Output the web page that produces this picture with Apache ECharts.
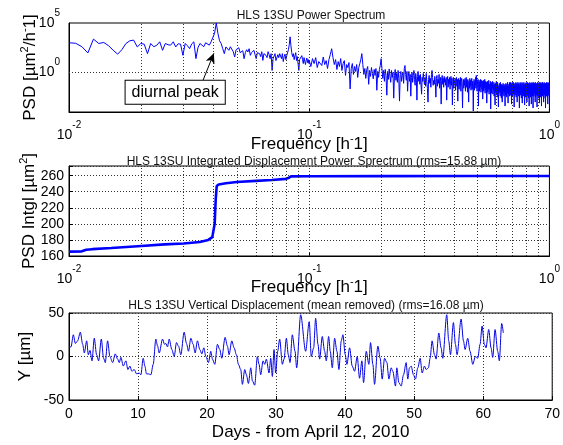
<!DOCTYPE html>
<html><head><meta charset="utf-8">
<script src="https://cdn.jsdelivr.net/npm/echarts@6/dist/echarts.min.js"></script>
<style>html,body{margin:0;padding:0;background:#fff}#c{width:563px;height:445px}</style>
</head><body><div id="c"></div>
<script>
const FONT = '"Liberation Sans", Arial, Helvetica, sans-serif';

// ---- Power spectrum: three frequency segments (uniform grid inside each), PSD as log10 [um^2/h^-1]
const specSegStart = [0.01, 0.1, 0.3];
const specSegStep = [0.00066, 0.0016, 0.00175];
const psdLog10SegA = [
3.0,2.95,2.6,1.97,3.37,2.93,3.03,2.7,2.24,1.85,2.3,2.93,3.2,3.27,2.58,2.93,2.86,1.9,2.93,2.6,
2.75,3.1,2.24,2.93,2.8,2.76,3.1,2.58,2.9,2.86,1.73,2.93,2.7,2.41,2.9,3.1,1.4,2.5,2.93,2.8,
2.6,3.0,2.85,2.76,3.1,3.3,3.95,5.0,3.95,3.2,2.93,2.4,1.9,2.58,2.7,2.24,2.6,2.41,2.1,1.56,
2.3,2.24,2.5,2.0,1.9,2.2,1.39,2.0,2.3,2.07,2.4,1.73,2.0,2.1,2.24,1.8,1.39,2.0,2.2,1.9,
1.6,2.1,1.22,1.9,2.0,1.73,1.5,2.1,1.8,1.39,1.9,0.2,1.4,1.56,1.9,1.2,1.05,1.8,1.5,1.9,
1.73,1.4,1.9,1.1,1.6,1.85,1.3,1.7,1.9,2.3,2.8,3.6,2.7,2.0,1.6,1.9,1.3,1.7,2.0,1.2,
1.6,1.8,0.2,1.3,1.5,1.1,1.7,1.3,0.9,1.5,1.4,0.8,1.2,1.45,1.0,1.3,0.9];
const psdLog10SegB = [
1.2,0.6,1.4,0.9,1.5,0.5,1.1,1.3,0.7,1.56,0.8,1.2,0.4,1.3,1.8,2.4,1.5,0.8,1.3,0.3,
1.1,0.6,1.4,0.2,0.9,1.2,-0.3,0.8,0.5,1.0,-1.67,0.4,0.9,-0.2,0.6,0.1,0.8,-0.5,0.5,0.9,
1.3,1.9,0.8,-0.2,0.4,-0.6,0.3,0.6,-1.2,0.2,-0.4,0.5,-0.1,-0.65,0.3,-0.3,0.4,-1.8,0.1,-0.5,
0.3,0.7,1.39,0.4,-0.6,0.2,-0.9,0.3,-0.3,-2.3,0.1,-0.7,0.35,-0.4,-1.0,0.2,-0.5,0.0,-2.6,-0.3,
0.3,-0.8,-0.1,-1.0,0.2,-0.6,-2.9,-0.2,0.1,-0.9,-0.3,0.0,-1.1,0.4,0.7,-0.2,-0.8,0.1,-1.9,-0.4,
0.1,-0.9,-0.2,-2.4,-0.5,0.0,-1.0,-0.3,0.2,-0.7,-1.3,-0.1,-0.6,-2.8,-0.4,0.1,-0.9,-0.3,-1.2,-0.2,
0.0,-2.2,-0.5,-0.9,-0.1];
const psdLog10SegC = [
-0.2,-1.2,-0.5,-1.4,-0.1,-0.9,-1.6,-3.0,-0.7,-0.3,-1.1,-0.6,-1.5,-0.2,0.2,-0.5,-1.3,-0.8,-1.2,-0.4,
-1.0,-2.5,-0.6,-0.3,-1.4,-0.7,-1.1,-0.2,-1.6,-0.9,-0.5,-3.2,-0.8,-0.3,-1.2,-0.6,-1.5,-0.4,-1.0,-0.7,
-1.3,-0.5,-2.8,-0.9,-0.4,-1.5,-0.7,-1.2,-0.5,-1.7,-0.8,-0.4,-1.3,-0.6,-3.3,-1.0,-0.5,-1.6,-0.8,-1.1,
-0.6,-1.8,-0.9,-0.5,-1.4,-0.7,-2.9,-1.0,-0.6,-1.7,-0.8,-1.3,-0.5,-1.9,-0.9,-0.6,-1.5,-3.6,-1.1,-0.7,
-1.6,-0.8,-1.3,-0.6,-1.9,-1.0,-0.5,-1.5,-0.8,-2.0,-0.7,-1.2,-3.0,-0.9,-1.6,-0.6,-1.4,-0.8,-1.8,-1.0,
-0.6,-1.7,-0.9,-1.4,-3.9,-1.1,-0.7,-1.8,-0.9,-1.3,-0.5,-1.6,-0.3,-1.0,-1.9,-0.8,-1.4,-0.7,-3.4,-1.2,
-0.8,-1.9,-1.0,-1.5,-0.7,-2.0,-1.1,-0.8,-1.7,-0.9,-2.7,-1.3,-0.8,-1.9,-1.0,-1.6,-0.7,-2.1,-1.2,-0.9,
-1.8,-1.0,-3.1,-1.3,-0.9,-2.0,-1.1,-1.7,-0.8,-2.2,-1.2,-1.0,-1.8,-0.9,-3.7,-1.4,-1.0,-2.1,-1.2,-1.6,
-0.9,-2.2,-1.3,-1.8,-1.0,-2.4,-1.2,-1.9,-3.3,-1.1,-2.0,-1.4,-0.9,-2.3,-1.2,-1.8,-1.0,-2.5,-1.3,-3.5,
-1.5,-2.1,-1.1,-1.9,-1.3,-2.4,-1.0,-2.0,-1.4,-2.6,-1.2,-1.8,-3.0,-1.3,-2.2,-1.1,-1.9,-1.4,-2.4,-1.2,
-2.0,-1.5,-3.4,-1.3,-2.3,-1.1,-1.9,-1.4,-2.5,-1.2,-2.1,-1.0,-1.8,-3.1,-1.4,-2.2,-1.2,-1.9,-1.0,-2.4,
-1.1,-1.8,-1.0,-2.3,-1.2,-1.7,-3.2,-1.1,-2.0,-1.0,-2.4,-1.3,-1.9,-1.0,-2.2,-1.2,-3.5,-1.4,-2.0,-1.1,
-2.3,-1.2,-1.8,-1.0,-2.5,-1.3,-2.0,-1.1,-3.0,-1.4,-2.2,-1.0,-1.9,-1.2,-2.4,-1.1,-1.7,-3.6,-1.3,-2.1,
-1.0,-2.3,-1.2,-1.9,-1.1,-2.6,-1.3,-2.0,-1.0,-3.1,-1.5,-2.2,-1.1,-1.8,-1.3,-2.4,-1.0,-2.0,-1.2,-3.3,
-1.4,-2.1,-1.1,-2.5,-1.2,-1.9,-1.0,-2.3,-1.3,-3.0,-1.2,-2.0,-1.0,-2.4,-1.4,-1.8,-1.1,-2.6,-1.2,-3.4,
-1.3,-2.2,-1.0,-1.9,-1.2,-2.5,-1.1,-2.0,-1.4,-3.2,-1.1,-2.3,-1.0,-1.8,-1.3,-2.4,-1.1,-3.6,-1.2,-2.1,
-1.0,-2.4,-1.3,-1.9,-1.1,-2.2,-1.2,-3.0,-1.0,-2.5,-1.3,-2.0,-1.1,-2.3,-1.2,-1.8,-3.5,-1.1,-2.2,-1.0,
-2.4,-1.2,-2.0,-1.1,-2.6,-1.3,-1.9,-1.0,-3.1,-1.2,-2.3,-1.1,-2.0,-1.3,-2.5,-1.0,-1.9,-1.2,-3.4,-1.1,
-2.2,-1.3,-2.0,-1.0,-2.4,-1.2,-1.8,-1.1,-2.5,-3.0,-1.2,-2.1,-1.0,-2.3,-1.3,-1.9,-1.1,-2.6,-1.2,-3.6,
-1.1,-2.2,-1.3,-2.0,-1.0,-2.4,-1.2,-1.9,-1.1,-2.5,-1.3,-3.2,-1.0,-2.1,-1.2,-2.3,-1.1,-1.9,-1.3,-2.4,
-1.4];

// ---- Integrated displacement power spectrum
const intFreq = [0.01,0.0113,0.0118,0.0125,0.015,0.02,0.025,0.03,0.035,0.038,0.0395,0.04,0.0404,0.0408,
  0.0412,0.042,0.045,0.05,0.06,0.07,0.08,0.0819,0.0824,0.084,0.1,0.2,0.5,1.0];
const intPsd = [165.5,165.8,167.8,168.5,170,172.5,174.5,175.5,177.5,180,183.5,185,200,230,
  247,249,250.5,252,253.5,254.5,256,257,259,259.1,259.2,259.4,259.5,259.6];

// ---- Vertical displacement time series
const dispDays = [
0,0.29,0.63,0.92,1.25,1.64,1.98,2.22,2.56,2.8,
3.04,3.33,3.66,4.0,4.29,4.68,5.01,5.26,5.59,5.93,
6.32,6.7,7.04,7.28,7.52,7.86,8.24,8.53,8.82,9.11,
9.45,9.79,10.17,10.41,10.75,10.99,11.23,11.52,11.86,12.2,
12.58,12.83,13.07,13.55,13.84,14.03,14.27,14.51,14.9,15.24,
15.57,15.86,16.2,16.68,17.02,17.31,17.65,17.98,18.27,18.61,
18.95,19.24,19.53,19.82,20.2,20.54,20.78,21.12,21.5,21.84,
22.13,22.61,22.95,23.19,23.58,23.92,24.25,24.54,24.88,25.12,
25.46,25.7,25.99,26.33,26.57,26.9,27.29,27.53,27.77,28.11,
28.35,28.59,28.98,29.22,29.46,29.7,29.94,30.23,30.52,30.91,
31.15,31.49,31.77,32.02,32.35,32.74,32.98,33.56,34.28,34.8,
35.1,35.44,35.73,36.07,36.31,36.69,37.03,37.27,37.61,37.85,
38.14,38.48,38.81,39.1,39.44,39.68,40.02,40.26,40.65,41.03,
41.37,41.75,42.09,42.43,42.67,43.06,43.44,43.68,44.02,44.26,
44.74,45.08,45.37,45.71,46.05,46.34,46.67,46.91,47.3,47.49,
47.78,48.12,48.46,48.84,49.08,49.32,49.57,49.9,50.19,50.53,
50.87,51.16,51.49,51.74,52.07,52.31,52.6,52.94,53.18,53.57,
53.9,54.15,54.72,55.01,55.26,55.69,55.98,56.22,56.8,57.14,
57.38,57.76,58.1,58.49,58.87,59.21,59.55,59.84,60.17,60.41,
60.8,61.14,61.38,61.72,62.1,62.34,62.68,62.92];
const dispUm = [
11,11,25,15,18,28,14,4,18,2,
7,-5,21,2,-5,20,-2,-7,18,0,
-7,3,-3,-7,-1,-11,-5,-15,-11,-17,
-15,-20,-19,-21,-2,-11,-20,-20,-21,-9,
20,12,4,20,14,15,11,20,8,0,
16,12,2,28,15,6,21,14,4,18,
8,3,10,0,-7,6,-3,-9,14,8,
-2,22,12,2,18,10,2,-9,-15,-32,
-15,-21,-31,-13,-28,-33,0,-9,-21,-5,
-9,-3,-19,-2,-23,8,-19,6,20,-9,
-3,21,2,-7,25,6,-13,48,6,40,
0,10,44,14,-3,23,6,-5,23,6,
-13,21,6,-15,18,25,2,-9,10,-11,
-17,0,-25,-5,-30,6,-9,16,-9,-32,
12,-2,-26,-2,-7,-26,-13,-17,-34,-13,
-30,-34,-21,-7,-26,-13,-11,-21,-26,-13,
-2,-19,-11,-15,-13,-2,18,2,-3,27,
10,-2,48,18,2,39,14,2,43,18,
8,21,6,-9,0,-2,14,35,14,10,
31,10,-1,31,6,-5,38,27];

// ---- grid / annotation values
const freqGridLines = [0.02,0.03,0.04,0.05,0.06,0.07,0.08,0.09,0.1,0.2,0.3,0.4,0.5,0.6,0.7,0.8,0.9];
const psdLabelDecades = [0, 5];
const arrowFrom = [0.0361, 0.153];
const arrowTo = [0.0401, 87];
const boxAt = [0.02767, 0.0102];
const titles = ['HLS 13SU Power Spectrum',
  'HLS 13SU Integrated Displacement Power Sprectrum (rms=15.88 \u00b5m)',
  'HLS 13SU Vertical Displacement (mean removed) (rms=16.08 \u00b5m)'];

const specData = [];
[psdLog10SegA, psdLog10SegB, psdLog10SegC].forEach((arr, s) => {
  arr.forEach((v, i) => specData.push([specSegStart[s] + i * specSegStep[s], Math.pow(10, v)]));
});
const intData = intFreq.map((f, i) => [f, intPsd[i]]);
const dispData = dispDays.map((d, i) => [d, dispUm[i]]);

const DOT = {type: [1, 2], color: '#333', width: 1};
const tickRich = {
  b: {fontSize: 14, fontFamily: FONT, color: '#000'},
  s: {fontSize: 10, fontFamily: FONT, color: '#000', padding: [0, 0, 20, 0]}
};
const nameRich = {
  a: {fontSize: 17, fontFamily: FONT, color: '#000'},
  s: {fontSize: 11, fontFamily: FONT, color: '#000', padding: [0, 0, 12, 0]}
};
function decade(v) {
  const l = Math.log10(v), e = Math.round(l);
  return Math.abs(l - e) < 1e-6 ? e : null;
}
const AXLINE = {onZero: false, lineStyle: {color: '#000', width: 1}};
function freqAxis(idx, gap) {
  return {
    type: 'log', logBase: 10, gridIndex: idx, min: 0.01, max: 1,
    axisLine: AXLINE,
    axisTick: {inside: true, length: 4, lineStyle: {color: '#000'}},
    splitLine: {show: false},
    axisLabel: {margin: 8, formatter: v => { const e = decade(v); return e === null ? '' : '{b|10}{s|' + e + '}'; }, rich: tickRich},
    name: '{a|Frequency [h}{s|-}{a|1]}', nameLocation: 'middle', nameGap: gap, nameMoveOverlap: false,
    nameTextStyle: {rich: nameRich}
  };
}
const plainName = {fontSize: 17, fontFamily: FONT, color: '#000'};
const plainLabel = {fontSize: 14, fontFamily: FONT, color: '#000'};
const titleStyle = {fontSize: 12, fontWeight: 'normal', color: '#111', fontFamily: FONT};
const gridStyle = {show: true, borderColor: '#000', borderWidth: 1, backgroundColor: 'transparent', left: 69, width: 484};

const option = {
  animation: false,
  textStyle: {fontFamily: FONT},
  title: [
    {text: titles[0], left: 311, top: 10, textAlign: 'center', padding: 0, textStyle: titleStyle},
    {text: titles[1], left: 314, top: 156, textAlign: 'center', padding: 0, textStyle: titleStyle},
    {text: titles[2], left: 306, top: 300, textAlign: 'center', padding: 0, textStyle: titleStyle}
  ],
  grid: [
    Object.assign({top: 23, height: 89}, gridStyle),
    Object.assign({top: 166, height: 90}, gridStyle),
    Object.assign({top: 313, height: 87}, gridStyle)
  ],
  xAxis: [
    freqAxis(0, 21),
    freqAxis(1, 20),
    {type: 'value', gridIndex: 2, min: 0, max: 70, interval: 10,
     axisLine: AXLINE, axisTick: {inside: true, length: 4, lineStyle: {color: '#000'}},
     splitLine: {show: true, lineStyle: DOT}, axisLabel: Object.assign({margin: 7}, plainLabel),
     name: 'Days - from April 12, 2010', nameLocation: 'middle', nameGap: 24, nameMoveOverlap: false, nameTextStyle: plainName}
  ],
  yAxis: [
    {type: 'log', logBase: 10, gridIndex: 0, min: 1e-4, max: 1e5,
     axisLine: AXLINE, axisTick: {show: false}, splitLine: {show: false},
     axisLabel: {margin: 9, formatter: v => { const e = decade(v); return (e !== null && psdLabelDecades.indexOf(e) >= 0) ? '{b|10}{s|' + e + '}' : ''; }, rich: tickRich},
     name: '{a|PSD [\u00b5m}{s|2}{a|/h}{s|-}{a|1]}', nameLocation: 'middle', nameGap: 27, nameMoveOverlap: false, nameTextStyle: {rich: nameRich}},
    {type: 'value', gridIndex: 1, min: 160, max: 272, interval: 20,
     axisLine: AXLINE, axisTick: {inside: true, length: 4, lineStyle: {color: '#000'}},
     splitLine: {show: true, lineStyle: DOT},
     axisLabel: Object.assign({margin: 5, formatter: v => (v % 20 === 0 ? String(v) : '')}, plainLabel),
     name: '{a|PSD Intgl [\u00b5m}{s|2}{a|]}', nameLocation: 'middle', nameGap: 28, nameMoveOverlap: false, nameTextStyle: {rich: nameRich}},
    {type: 'value', gridIndex: 2, min: -50, max: 50, interval: 50,
     axisLine: AXLINE, axisTick: {inside: true, length: 4, lineStyle: {color: '#000'}},
     splitLine: {show: true, lineStyle: DOT}, axisLabel: Object.assign({margin: 5}, plainLabel),
     name: 'Y [\u00b5m]', nameLocation: 'middle', nameGap: 35, nameMoveOverlap: false, nameTextStyle: plainName}
  ],
  series: [
    {type: 'line', xAxisIndex: 0, yAxisIndex: 0, data: specData, showSymbol: false, silent: true,
     lineStyle: {color: '#0000ff', width: 1}, itemStyle: {color: '#0000ff'}, z: 3,
     markLine: {silent: true, symbol: ['none', 'none'], label: {show: false}, lineStyle: DOT,
       data: freqGridLines.map(f => ({xAxis: f})).concat([{yAxis: 1}]).concat([[
         {coord: arrowFrom, symbol: 'none', lineStyle: {type: 'solid', color: '#000', width: 1}},
         {coord: arrowTo, symbol: 'arrow', symbolSize: [7, 10]}
       ]])},
     markPoint: {silent: true, data: [{coord: boxAt, symbol: 'circle', symbolSize: 1,
       itemStyle: {color: 'rgba(0,0,0,0)'},
       label: {show: true, position: 'inside', formatter: 'diurnal peak', fontSize: 16, color: '#000', fontFamily: FONT,
         backgroundColor: '#fff', borderColor: '#000', borderWidth: 1, padding: [3, 6, 2, 6], lineHeight: 18}}]}
    },
    {type: 'line', xAxisIndex: 1, yAxisIndex: 1, data: intData, showSymbol: false, silent: true,
     lineStyle: {color: '#0000ff', width: 2.6}, itemStyle: {color: '#0000ff'}, z: 3,
     markLine: {silent: true, symbol: ['none', 'none'], label: {show: false}, lineStyle: DOT,
       data: freqGridLines.map(f => ({xAxis: f}))}},
    {type: 'line', xAxisIndex: 2, yAxisIndex: 2, data: dispData, showSymbol: false, silent: true,
     smooth: 0.3, smoothMonotone: 'x',
     lineStyle: {color: '#0000e0', width: 1}, itemStyle: {color: '#0000e0'}, z: 3}
  ]
};
const chart = echarts.init(document.getElementById('c'), null, {renderer: 'canvas'});
chart.setOption(option);
</script></body></html>
